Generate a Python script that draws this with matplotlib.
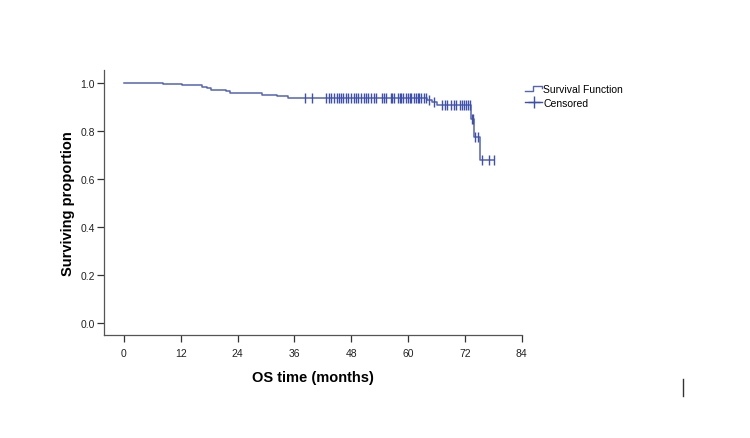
import numpy as np
import matplotlib
matplotlib.use('Agg')
import matplotlib.pyplot as plt
from matplotlib.lines import Line2D
from matplotlib.legend_handler import HandlerBase

plt.rcParams['font.family'] = ['Liberation Sans', 'DejaVu Sans']

# Kaplan-Meier steps (time in months, survival after the event)
EVENT_TIMES = [0, 8.3, 12.2, 16.5, 17.5, 18.4, 21.6, 22.4, 29.2, 32.3, 34.7,
               64.0, 65.1, 66.2, 73.2, 73.9, 75.2]
SURVIVAL = [1.0, 0.995, 0.99, 0.984, 0.978, 0.971, 0.965, 0.958, 0.951, 0.944,
            0.937, 0.930, 0.922, 0.908, 0.850, 0.774, 0.680]
CENSOR_TIMES = [38.3, 39.7, 42.7, 43.3, 43.8, 44.3, 44.9, 45.4, 45.9, 46.3,
                46.9, 47.4, 48.0, 48.5, 49.1, 49.5, 50.1, 50.6, 51.2, 51.6,
                52.1, 52.9, 53.3, 54.4, 54.9, 55.4, 56.3, 56.7, 57.1, 57.8,
                58.2, 58.6, 59.0, 59.5, 59.9, 60.3, 60.7, 61.2, 61.6, 62.0,
                62.4, 62.8, 63.3, 63.7, 64.5, 65.5, 67.1, 67.7, 68.3, 69.0,
                69.6, 70.2, 70.9, 71.3, 71.7, 72.2, 72.6, 73.0, 73.4, 73.7,
                74.2, 74.7, 75.7, 77.0, 78.1]
X_TICKS = [0, 12, 24, 36, 48, 60, 72, 84]
Y_TICKS = [0.0, 0.2, 0.4, 0.6, 0.8, 1.0]

LINE_COLOR = '#5565b5'
MARK_COLOR = '#3d50ad'


def surv_at(t):
    idx = np.searchsorted(EVENT_TIMES, t, side='right') - 1
    return SURVIVAL[idx]


class StepHandler(HandlerBase):
    def create_artists(self, legend, orig, x0, y0, w, h, fontsize, trans):
        xs = [x0, x0 + 0.45 * w, x0 + 0.45 * w, x0 + w, x0 + w]
        ys = [y0 + 0.2 * h, y0 + 0.2 * h, y0 + 0.9 * h, y0 + 0.9 * h, y0 + 0.55 * h]
        ln = Line2D(xs, ys, color=LINE_COLOR, lw=1.0, transform=trans)
        return [ln]


fig = plt.figure(figsize=(7.5, 4.39), dpi=100)
ax = fig.add_axes([0.1387, 0.2346, 0.557, 0.6036])

t_end = max(CENSOR_TIMES)
xs = list(EVENT_TIMES) + [t_end]
ys = list(SURVIVAL) + [SURVIVAL[-1]]
ax.step(xs, ys, where='post', color=LINE_COLOR, lw=1.1)

cy = [surv_at(t) for t in CENSOR_TIMES]
ax.plot(CENSOR_TIMES, cy, ls='none', marker='|', ms=7, mew=1.0, color=MARK_COLOR)

ax.set_xlim(-4.2, 84)
ax.set_ylim(-0.05, 1.054)
ax.set_xticks(X_TICKS)
ax.set_yticks(Y_TICKS)
ax.set_yticklabels([f'{v:.1f}' for v in Y_TICKS])
ax.tick_params(labelsize=7.5, length=5, width=0.9, color='#333333',
               labelcolor='#222222')
ax.tick_params(axis='x', pad=4)
ax.tick_params(axis='y', pad=1.5)
for side in ['top', 'right']:
    ax.spines[side].set_visible(False)
for side in ['left', 'bottom']:
    ax.spines[side].set_color('#555555')
    ax.spines[side].set_linewidth(0.9)

ax.set_xlabel('OS time (months)', fontsize=10.5, fontweight='bold', labelpad=9)
ax.set_ylabel('Surviving proportion', fontsize=10.5, fontweight='bold', labelpad=4)

h_surv = Line2D([], [], color=LINE_COLOR)
h_cens = Line2D([], [], color=MARK_COLOR, marker='+', ms=9, lw=1.0)
fig.legend([h_surv, h_cens], ['Survival Function', 'Censored'],
           handler_map={h_surv: StepHandler()},
           loc='upper left', bbox_to_anchor=(0.695, 0.815), frameon=False,
           fontsize=7.5, handlelength=1.6, handletextpad=0.1, labelspacing=0.35,
           borderaxespad=0)

# stray mark at the bottom right of the original image
fig.add_artist(Line2D([683 / 750, 683 / 750], [1 - 380 / 439, 1 - 397 / 439],
                      color='#333333', lw=1.0))

fig.savefig('out.png', dpi=100)
